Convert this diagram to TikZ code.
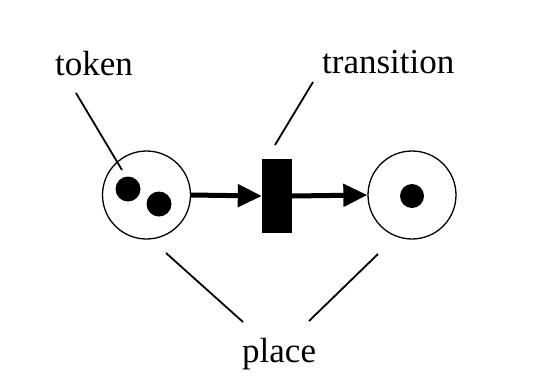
\documentclass[tikz,border=0pt]{standalone}
\usepackage{fontspec}
\setmainfont{Liberation Serif}
\usetikzlibrary{arrows.meta}
\begin{document}
\begin{tikzpicture}[x=1pt,y=-1pt,
  place/.style={circle,draw,line width=1.3pt,minimum size=88pt,inner sep=0pt},
  tokendot/.style={circle,fill=black,minimum size=25pt,inner sep=0pt},
  trans/.style={rectangle,fill=black,minimum width=30pt,minimum height=74pt,inner sep=0pt},
  flow/.style={line width=5pt,-{Triangle[length=24pt,width=22pt]}},
  label/.style={font=\fontsize{35}{40}\selectfont,inner sep=0pt,anchor=base west},
  pointer/.style={line width=1.8pt}]
\useasboundingbox (0,0) rectangle (538,389);
\node[place] (p1) at (146.5,195) {};
\node[place] (p2) at (412,195) {};
\node[tokendot] (t1) at (128,189) {};
\node[tokendot] (t2) at (159,204) {};
\node[tokendot,minimum size=24pt] (t3) at (412,196) {};
\node[trans] (tr) at (277,196) {};
\draw[flow] (p1.east) -- (tr.west);
\draw[flow] (tr.east) -- (p2.west);
\node[label] (ltoken) at (55,75) {token};
\node[label] (ltrans) at (322,73) {transition};
\node[label] (lplace) at (242,362) {place};
\coordinate (a1) at (76,93);
\coordinate (a2) at (122,170);
\coordinate (b1) at (313,82);
\coordinate (b2) at (275,145);
\coordinate (c1) at (166,253);
\coordinate (c2) at (243,322);
\coordinate (d1) at (378,254);
\coordinate (d2) at (309,321);
\draw[pointer] (a1) -- (a2);
\draw[pointer] (b1) -- (b2);
\draw[pointer] (c1) -- (c2);
\draw[pointer] (d1) -- (d2);
\end{tikzpicture}
\end{document}
